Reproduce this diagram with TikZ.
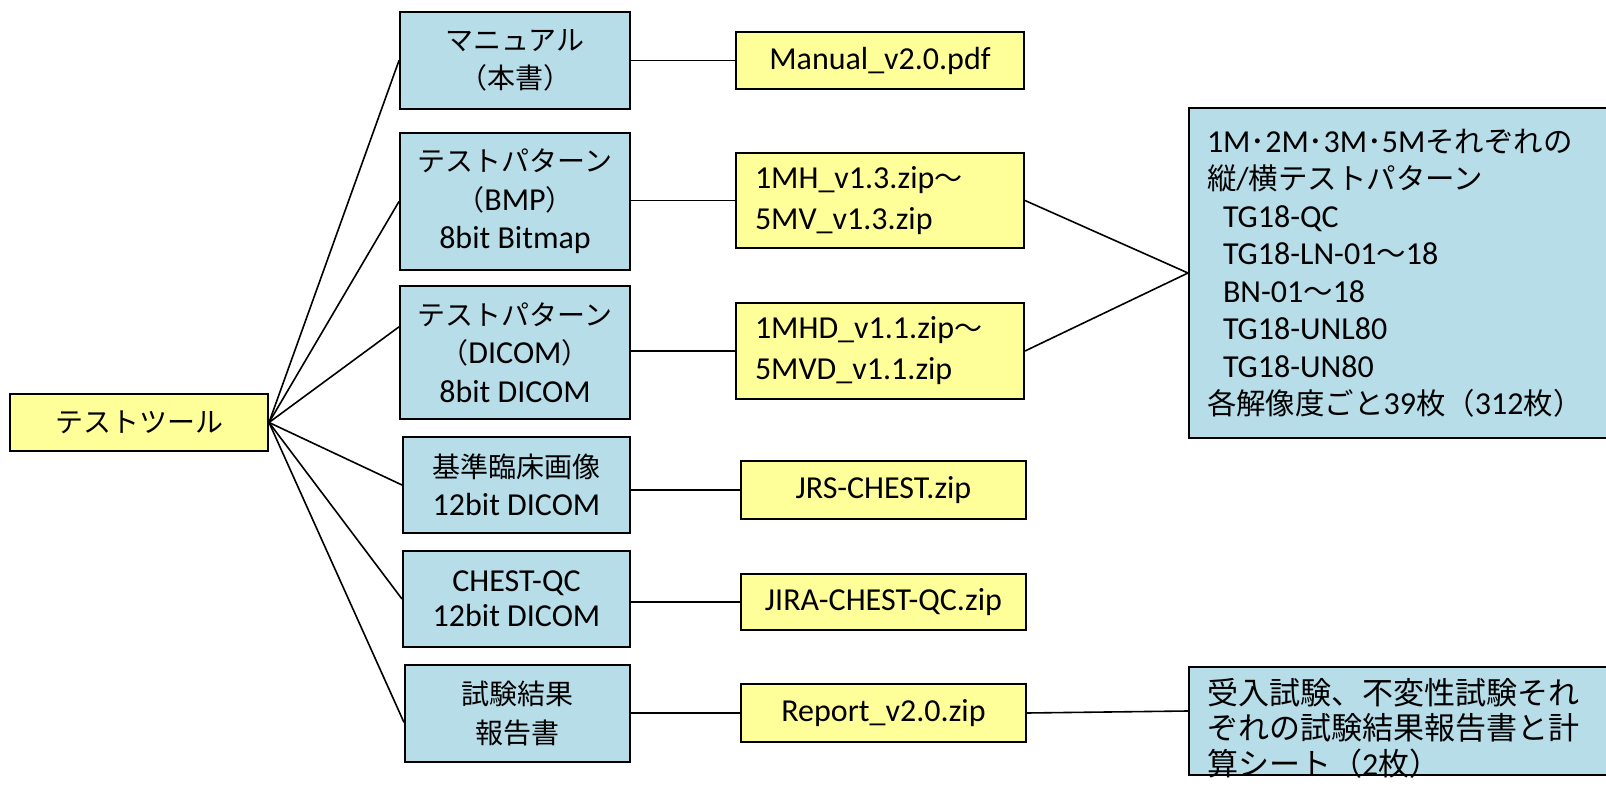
\documentclass[tikz,border=0pt]{standalone}
\usepackage{fontspec}
\setmainfont{Carlito}
\newfontfamily\jpstd[Scale=0.875]{Noto Sans CJK JP}
\newfontfamily\jpmid[Scale=0.92]{Noto Sans CJK JP}
\newfontfamily\jpbig[Scale=0.97]{Noto Sans CJK JP}
\let\jpcur\jpstd
\newcommand\jp[1]{{\jpcur #1}}
\usetikzlibrary{calc}
\definecolor{boxblue}{HTML}{B7DDE8}
\definecolor{boxyellow}{HTML}{FFFF99}
\tikzset{
  basebox/.style={draw=black, line width=2pt, inner sep=0pt, align=center,
    font=\fontsize{32}{38.5}\selectfont},
  bluebox/.style={basebox, fill=boxblue},
  yellowbox/.style={basebox, fill=boxyellow},
  filebox/.style={yellowbox, font=\fontsize{32}{41}\selectfont},
  listbox/.style={basebox, fill=boxblue, align=left, anchor=north west,
    inner xsep=18pt, text width=420pt},
  link/.style={line width=1.6pt}
}
\begin{document}
\begin{tikzpicture}[x=1pt,y=-1pt]
\useasboundingbox (0,0) rectangle (1606,794);
\fill[white] (0,0) rectangle (1606,794);

% root
\node[yellowbox, minimum width=258pt, minimum height=57pt] (root) at (139,422.5) {\jp{テストツール}};

% categories
\node[bluebox, minimum width=230pt, minimum height=97pt] (b1) at (515,60.5)
  {\jp{マニュアル}\\\jp{（本書）}};
\node[bluebox, minimum width=230pt, minimum height=137pt] (b2) at (515,201.5)
  {\jp{テストパターン}\\\jp{（}BMP\jp{）}\\8bit Bitmap};
\node[bluebox, minimum width=230pt, minimum height=133pt] (b3) at (515,352.5)
  {\jp{テストパターン}\\\jp{（}DICOM\jp{）}\\8bit DICOM};
\node[bluebox, minimum width=227pt, minimum height=96pt] (b4) at (516.5,485)
  {\jp{基準臨床画像}\\12bit DICOM};
\node[bluebox, minimum width=227pt, minimum height=96pt,
  font=\fontsize{32}{35}\selectfont] (b5) at (516.5,599)
  {CHEST-QC\\12bit DICOM};
\node[bluebox, minimum width=225pt, minimum height=97pt] (b6) at (517.5,713.5)
  {\jp{試験結果}\\\jp{報告書}};

% files
\node[filebox, minimum width=288pt, minimum height=57pt] (y1) at (880,60.5) {Manual\_v2.0.pdf};
\node[filebox, minimum width=288pt, minimum height=95pt, align=left,
  text width=250pt] (y2) at (880,200.5)
  {1MH\_v1.3.zip\jp{～}\\5MV\_v1.3.zip};
\node[filebox, minimum width=288pt, minimum height=96pt, align=left,
  text width=250pt] (y3) at (880,351)
  {1MHD\_v1.1.zip\jp{～}\\5MVD\_v1.1.zip};
\node[filebox, minimum width=285pt, minimum height=58pt] (y4) at (883.5,490) {JRS-CHEST.zip};
\node[filebox, minimum width=285pt, minimum height=56pt] (y5) at (883.5,602) {JIRA-CHEST-QC.zip};
\node[filebox, minimum width=285pt, minimum height=58pt] (y6) at (883.5,713) {Report\_v2.0.zip};

% details
\node[listbox, minimum height=330pt,
  font=\fontsize{32}{37.5}\selectfont\let\jpcur\jpmid] (list) at (1188,107)
  {1M\jp{･}2M\jp{･}3M\jp{･}5M\jp{それぞれの}\\
   \jp{縦}/\jp{横テストパターン}\\
   \hspace*{16pt}TG18-QC\\
   \hspace*{16pt}TG18-LN-01\jp{～}18\\
   \hspace*{16pt}BN-01\jp{～}18\\
   \hspace*{16pt}TG18-UNL80\\
   \hspace*{16pt}TG18-UN80\\
   \jp{各解像度ごと}39\jp{枚（}312\jp{枚）}};
\node[listbox, inner ysep=11pt, text depth=60pt,
  font=\fontsize{32}{35.5}\selectfont\let\jpcur\jpbig] (rep) at (1188,666)
  {\jp{受入試験、不変性試験それ}\\
   \jp{ぞれの試験結果報告書と計}\\
   \jp{算シート（}2\jp{枚）}};
\coordinate (repin) at ($(rep.north west)+(0,45)$);

% connectors
\draw[link] (root.east) -- (b1.west);
\draw[link] (root.east) -- (b2.west);
\draw[link] (root.east) -- ($(b3.north west)!0.31!(b3.south west)$);
\draw[link] (root.east) -- (b4.west);
\draw[link] (root.east) -- (b5.west);
\draw[link] (root.east) -- ($(b6.north west)!0.59!(b6.south west)$);

\draw[link] (y1.west -| b1.east) -- (y1.west);
\draw[link] (y2.west -| b2.east) -- (y2.west);
\draw[link] (y3.west -| b3.east) -- (y3.west);
\draw[link] (y4.west -| b4.east) -- (y4.west);
\draw[link] (y5.west -| b5.east) -- (y5.west);
\draw[link] (y6.west -| b6.east) -- (y6.west);

\draw[link] (y2.east) -- (list.west);
\draw[link] (y3.east) -- (list.west);
\draw[link] (y6.east) -- (repin);
\end{tikzpicture}
\end{document}
